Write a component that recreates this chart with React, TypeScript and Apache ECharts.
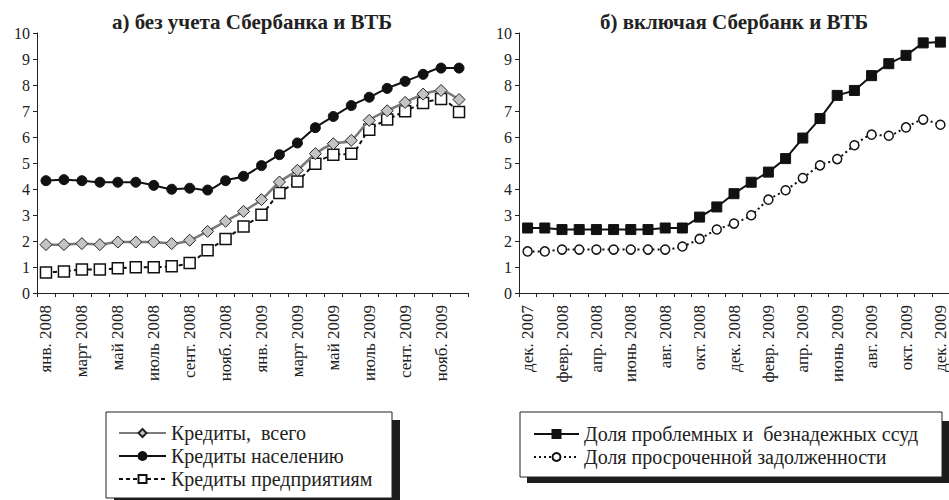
import React, { useEffect, useRef } from "react";
import * as echarts from "echarts";

const leftMonths = [
  "янв. 2008", "февр. 2008", "март 2008", "апр. 2008", "май 2008", "июнь 2008",
  "июль 2008", "авг. 2008", "сент. 2008", "окт. 2008", "нояб. 2008", "дек. 2008",
  "янв. 2009", "февр. 2009", "март 2009", "апр. 2009", "май 2009", "июнь 2009",
  "июль 2009", "авг. 2009", "сент. 2009", "окт. 2009", "нояб. 2009", "дек. 2009",
];
const rightMonths = [
  "дек. 2007",
  "янв. 2008", "февр. 2008", "март 2008", "апр. 2008", "май 2008", "июнь 2008",
  "июль 2008", "авг. 2008", "сент. 2008", "окт. 2008", "нояб. 2008", "дек. 2008",
  "янв. 2009", "февр. 2009", "март 2009", "апр. 2009", "май 2009", "июнь 2009",
  "июль 2009", "авг. 2009", "сент. 2009", "окт. 2009", "нояб. 2009", "дек. 2009",
];

const creditsTotal = [
  1.86, 1.86, 1.9, 1.86, 1.96, 1.96, 1.96, 1.9, 2.03, 2.37, 2.76, 3.14,
  3.59, 4.27, 4.72, 5.36, 5.74, 5.87, 6.64, 7.01, 7.33, 7.65, 7.79, 7.44,
];
const creditsHouseholds = [
  4.32, 4.36, 4.32, 4.26, 4.26, 4.26, 4.14, 3.99, 4.03, 3.96, 4.32, 4.49,
  4.9, 5.32, 5.77, 6.36, 6.79, 7.21, 7.53, 7.87, 8.14, 8.41, 8.65, 8.65,
];
const creditsCompanies = [
  0.79, 0.83, 0.9, 0.9, 0.95, 0.99, 0.99, 1.03, 1.15, 1.64, 2.08, 2.56,
  3.01, 3.85, 4.29, 4.97, 5.32, 5.36, 6.28, 6.67, 6.99, 7.31, 7.46, 6.96,
];
const problemLoans = [
  2.5, 2.5, 2.44, 2.44, 2.44, 2.44, 2.44, 2.44, 2.5, 2.5, 2.92, 3.31, 3.82,
  4.26, 4.65, 5.17, 5.96, 6.71, 7.6, 7.79, 8.36, 8.82, 9.14, 9.62, 9.65,
];
const overdueDebt = [
  1.6, 1.6, 1.67, 1.67, 1.67, 1.67, 1.67, 1.67, 1.67, 1.79, 2.08, 2.44, 2.67,
  2.99, 3.59, 3.95, 4.42, 4.91, 5.15, 5.68, 6.09, 6.05, 6.37, 6.67, 6.47,
];

const titleLeft = "а) без учета Сбербанка и ВТБ";
const titleRight = "б) включая Сбербанк и ВТБ";
const nameTotal = "Кредиты,  всего";
const nameHouseholds = "Кредиты населению";
const nameCompanies = "Кредиты предприятиям";
const nameProblem = "Доля проблемных и  безнадежных ссуд";
const nameOverdue = "Доля просроченной задолженности";

const FONT = "Liberation Serif";
const INK = "#222";

function xAxisFor(gridIndex: number, data: string[]) {
  return {
    type: "category",
    gridIndex,
    data,
    boundaryGap: true,
    axisLine: { lineStyle: { color: INK, width: 1 } },
    axisTick: { show: true, interval: 0, length: 4, lineStyle: { color: INK } },
    axisLabel: {
      interval: 1,
      rotate: 90,
      margin: 12,
      color: INK,
      fontFamily: FONT,
      fontSize: 17,
    },
    splitLine: { show: false },
  };
}

function yAxisFor(gridIndex: number) {
  return {
    type: "value",
    gridIndex,
    min: 0,
    max: 10,
    interval: 1,
    axisLine: { show: true, lineStyle: { color: INK, width: 1 } },
    axisTick: { show: true, length: 4, lineStyle: { color: INK } },
    axisLabel: { color: INK, fontFamily: FONT, fontSize: 16, margin: 7 },
    splitLine: { show: false },
  };
}

export default function App() {
  const ref = useRef<HTMLDivElement>(null);
  useEffect(() => {
    if (!ref.current) return;
    const chart = echarts.init(ref.current, null, { renderer: "svg" });
    const legendText = { color: INK, fontFamily: FONT, fontSize: 20, lineHeight: 20 };
    const titleText = { fontFamily: FONT, fontWeight: "bold", fontSize: 21, color: INK };
    chart.setOption({
      animation: false,
      backgroundColor: "#fff",
      title: [
        { text: titleLeft, left: 252, top: 11, textAlign: "center", padding: 0, textStyle: titleText },
        { text: titleRight, left: 734, top: 11, textAlign: "center", padding: 0, textStyle: titleText },
      ],
      grid: [
        { left: 37, top: 33, width: 431, height: 260, containLabel: false },
        { left: 519, top: 33, width: 431, height: 260, containLabel: false },
      ],
      xAxis: [xAxisFor(0, leftMonths), xAxisFor(1, rightMonths)],
      yAxis: [yAxisFor(0), yAxisFor(1)],
      graphic: [
        { type: "rect", z: 1, shape: { x: 114, y: 420, width: 286, height: 86 }, style: { fill: "#1c1c1c" } },
        { type: "rect", z: 2, shape: { x: 106, y: 412, width: 286, height: 86 }, style: { fill: "#fff", stroke: INK, lineWidth: 1 } },
        { type: "rect", z: 1, shape: { x: 527, y: 421, width: 423, height: 62 }, style: { fill: "#1c1c1c" } },
        { type: "rect", z: 2, shape: { x: 520, y: 412, width: 422, height: 65 }, style: { fill: "#fff", stroke: INK, lineWidth: 1 } },
      ],
      legend: [
        {
          z: 10,
          orient: "vertical",
          left: 118,
          top: 423,
          padding: 0,
          itemWidth: 47,
          itemHeight: 10,
          itemGap: 3,
          data: [nameTotal, nameHouseholds, nameCompanies],
          textStyle: legendText,
          selectedMode: false,
        },
        {
          z: 10,
          orient: "vertical",
          left: 533,
          top: 424,
          padding: 0,
          itemWidth: 45,
          itemHeight: 10,
          itemGap: 3,
          data: [nameProblem, nameOverdue],
          textStyle: legendText,
          selectedMode: false,
        },
      ],
      series: [
        {
          name: nameTotal,
          type: "line",
          xAxisIndex: 0,
          yAxisIndex: 0,
          data: creditsTotal,
          smooth: 0.25,
          showAllSymbol: true,
          symbol: "diamond",
          symbolSize: 12,
          lineStyle: { color: "#7a7a7a", width: 2.5 },
          itemStyle: { color: "#c4c4c4", borderColor: "#222", borderWidth: 1 },
          z: 3,
        },
        {
          name: nameHouseholds,
          type: "line",
          xAxisIndex: 0,
          yAxisIndex: 0,
          data: creditsHouseholds,
          smooth: 0.25,
          showAllSymbol: true,
          symbol: "circle",
          symbolSize: 10,
          lineStyle: { color: "#111", width: 2 },
          itemStyle: { color: "#111", borderColor: "#111", borderWidth: 1 },
          z: 3,
        },
        {
          name: nameCompanies,
          type: "line",
          xAxisIndex: 0,
          yAxisIndex: 0,
          data: creditsCompanies,
          smooth: 0.25,
          showAllSymbol: true,
          symbol: "rect",
          symbolSize: 11,
          lineStyle: { color: "#111", width: 2, type: [4, 3] },
          itemStyle: { color: "#fff", borderColor: "#111", borderWidth: 1.5 },
          z: 2,
        },
        {
          name: nameProblem,
          type: "line",
          xAxisIndex: 1,
          yAxisIndex: 1,
          data: problemLoans,
          showAllSymbol: true,
          symbol: "rect",
          symbolSize: 10,
          lineStyle: { color: "#111", width: 2 },
          itemStyle: { color: "#111", borderColor: "#111", borderWidth: 1 },
        },
        {
          name: nameOverdue,
          type: "line",
          xAxisIndex: 1,
          yAxisIndex: 1,
          data: overdueDebt,
          smooth: 0.2,
          showAllSymbol: true,
          symbol: "circle",
          symbolSize: 9,
          lineStyle: { color: "#111", width: 2, type: [2, 3] },
          itemStyle: { color: "#fff", borderColor: "#111", borderWidth: 1.5 },
        },
      ],
    });
    return () => chart.dispose();
  }, []);
  return (
    <div
      ref={ref}
      style={{ position: "absolute", left: 0, top: 0, width: 949, height: 500 }}
    />
  );
}
